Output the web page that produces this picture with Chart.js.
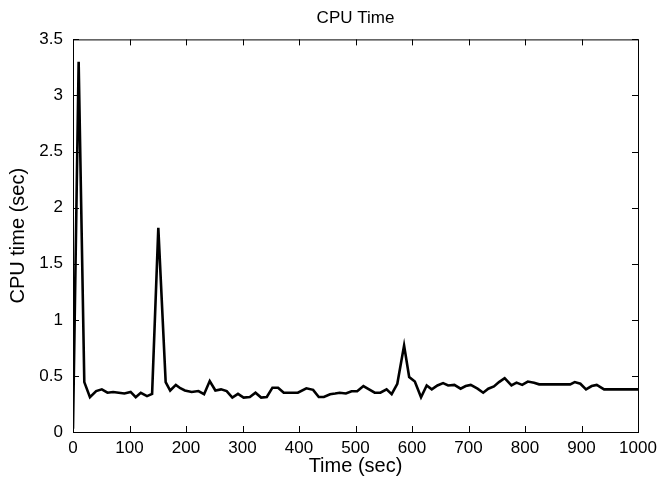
<!DOCTYPE html>
<html>
<head>
<meta charset="utf-8">
<script src="https://cdn.jsdelivr.net/npm/chart.js"></script>
<style>
   html, body { margin: 0; padding: 0; background: #ffffff; }
   canvas { display: block; }
</style>
</head>
<body>
<canvas id="grafico" width="663" height="481"></canvas>
<script>
// Dados (tempo em s, tempo de CPU em s)
const tempos = [0, 10, 20, 30, 41, 51, 61, 71, 81, 91, 102, 111, 120, 131, 140, 151, 164, 172, 182, 190,
   198, 210, 222, 232, 242, 252, 262, 272, 282, 292, 302, 313, 323, 333, 343, 353, 363, 373, 398, 413,
   425, 435, 444, 455, 464, 472, 483, 493, 503, 514, 524, 534, 544, 555, 564, 574, 586, 595, 605, 616,
   626, 635, 645, 655, 664, 675, 686, 695, 704, 716, 726, 735, 745, 754, 764, 776, 785, 795, 805, 816,
   825, 880, 888, 898, 908, 918, 927, 940, 1000];
const cpu = [0.03, 3.3, 0.445, 0.31, 0.365, 0.38, 0.35, 0.357, 0.35, 0.343, 0.357, 0.31, 0.35, 0.32, 0.34, 1.82, 0.445, 0.37, 0.42, 0.39,
   0.37, 0.357, 0.365, 0.337, 0.454, 0.37, 0.38, 0.365, 0.307, 0.34, 0.307, 0.312, 0.35, 0.307, 0.312, 0.395, 0.395, 0.35, 0.35, 0.39,
   0.376, 0.312, 0.312, 0.337, 0.343, 0.35, 0.343, 0.363, 0.363, 0.41, 0.38, 0.35, 0.35, 0.38, 0.337, 0.43, 0.77, 0.49, 0.45, 0.31,
   0.415, 0.38, 0.415, 0.436, 0.415, 0.42, 0.386, 0.41, 0.42, 0.386, 0.35, 0.386, 0.406, 0.445, 0.48, 0.415, 0.44, 0.42, 0.45, 0.44,
   0.425, 0.425, 0.445, 0.43, 0.38, 0.41, 0.42, 0.38, 0.38];
const xTicks = [0, 100, 200, 300, 400, 500, 600, 700, 800, 900, 1000];
const yTicks = [0, 0.5, 1, 1.5, 2, 2.5, 3, 3.5];

const fonte = "'Liberation Sans', Arial, sans-serif";

// Moldura com marcas para dentro (estilo MATLAB)
const moldura = {
   id: 'moldura',
   afterDraw(chart) {
      const { ctx, chartArea: a, scales: { x, y } } = chart;
      ctx.save();
      ctx.strokeStyle = '#000000';
      ctx.lineWidth = 1;
      ctx.strokeRect(a.left + 0.5, a.top + 0.5, a.right - a.left, a.bottom - a.top);
      ctx.beginPath();
      xTicks.forEach(v => {
         const px = Math.round(x.getPixelForValue(v)) + 0.5;
         ctx.moveTo(px, a.bottom); ctx.lineTo(px, a.bottom - 6);
         ctx.moveTo(px, a.top); ctx.lineTo(px, a.top + 6);
      });
      yTicks.forEach(v => {
         const py = Math.round(y.getPixelForValue(v)) + 0.5;
         ctx.moveTo(a.left, py); ctx.lineTo(a.left + 6, py);
         ctx.moveTo(a.right, py); ctx.lineTo(a.right - 6, py);
      });
      ctx.stroke();
      ctx.restore();
   }
};

const grafico = document.getElementById('grafico').getContext('2d');
const chart = new Chart(grafico, {
   type: 'line',
   data: {
      datasets: [{
         label: 'CPU time',
         data: tempos.map((t, i) => ({ x: t, y: cpu[i] })),
         borderColor: '#000000',
         borderWidth: 2.6,
         pointRadius: 0,
         tension: 0,
         fill: false
      }]
   },
   options: {
      responsive: false,
      animation: false,
      layout: { padding: { top: 0, right: 25, bottom: 0, left: 0 } },
      plugins: {
         legend: { display: false },
         tooltip: { enabled: false },
         title: {
            display: true,
            fullSize: false,
            text: 'CPU Time',
            color: '#000000',
            font: { family: fonte, size: 17, weight: 'normal' },
            padding: { top: 8, bottom: 11 }
         }
      },
      scales: {
         x: {
            type: 'linear',
            min: 0,
            max: 1000,
            afterFit: (s) => { s.height = 49; },
            grid: { display: false, drawTicks: false },
            border: { display: false },
            ticks: {
               stepSize: 100,
               padding: 6,
               color: '#000000',
               maxRotation: 0,
               font: { family: fonte, size: 17 },
               callback: (v) => String(v)
            },
            title: {
               display: true,
               text: 'Time (sec)',
               color: '#000000',
               font: { family: fonte, size: 20 },
               padding: { top: 0, bottom: 3 }
            }
         },
         y: {
            type: 'linear',
            min: 0,
            max: 3.5,
            afterFit: (s) => { s.width = 73; },
            grid: { display: false, drawTicks: false },
            border: { display: false },
            ticks: {
               stepSize: 0.5,
               padding: 10,
               color: '#000000',
               font: { family: fonte, size: 17 },
               callback: (v) => String(v)
            },
            title: {
               display: true,
               text: 'CPU time (sec)',
               color: '#000000',
               font: { family: fonte, size: 20 },
               padding: { top: 6, bottom: 0 }
            }
         }
      }
   },
   plugins: [moldura]
});
</script>
</body>
</html>
